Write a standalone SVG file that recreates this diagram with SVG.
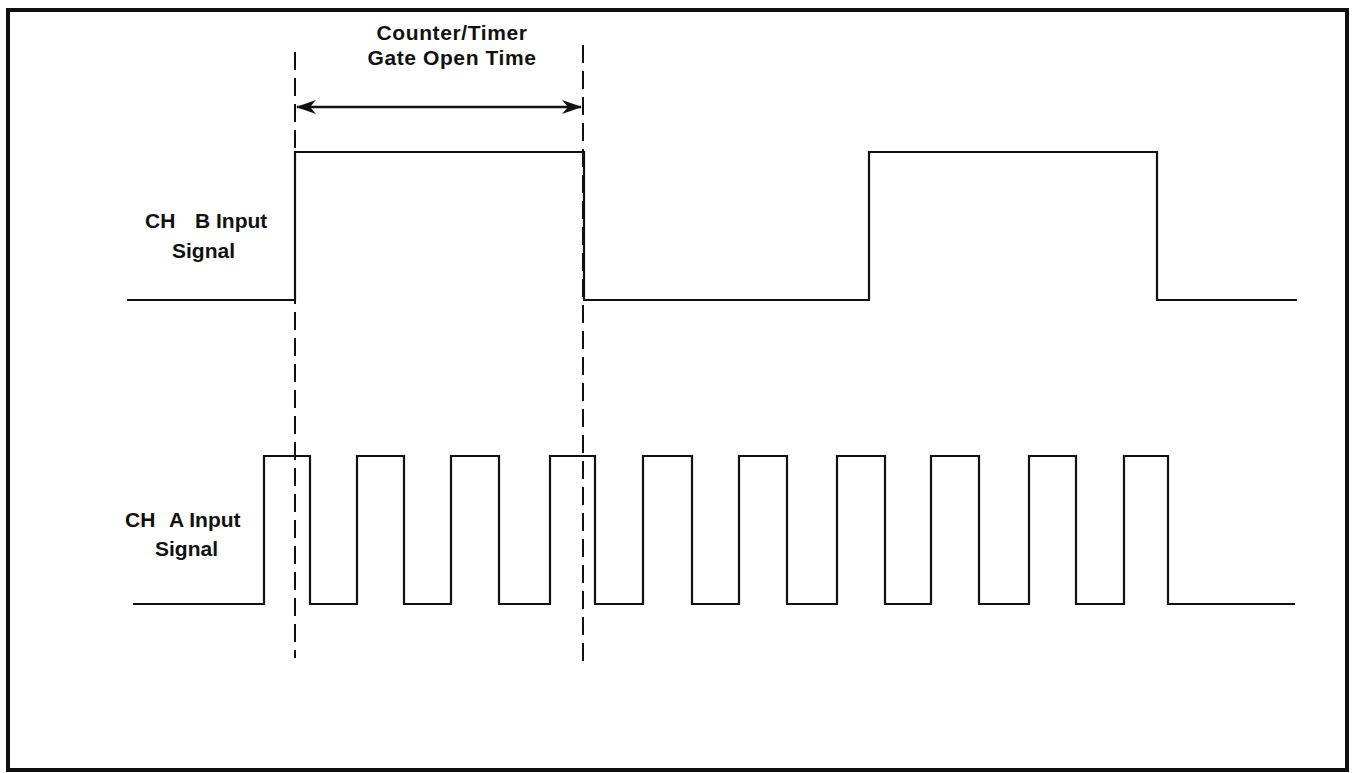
<svg xmlns="http://www.w3.org/2000/svg" width="1357" height="773" viewBox="0 0 1357 773">
<style>
.sig{fill:none;stroke:#111;stroke-width:2.2;stroke-linejoin:miter}
.dash{fill:none;stroke:#111;stroke-width:2;stroke-dasharray:18 8}
.lbl{font-family:"Liberation Sans",Arial,sans-serif;font-weight:bold;font-size:21px;fill:#111}
</style>
<defs>
<marker id="ah" viewBox="0 0 20 14" refX="19" refY="7" markerWidth="20" markerHeight="14" markerUnits="userSpaceOnUse" orient="auto-start-reverse">
<path d="M0,0 L20,7 L0,14 L6,7 Z" fill="#111"/>
</marker>
</defs>
<rect width="1357" height="773" fill="#fff"/>
<rect id="frame" x="8" y="10" width="1339" height="760" fill="none" stroke="#111" stroke-width="4"/>
<g id="title">
<text class="lbl" x="452" y="40" text-anchor="middle" letter-spacing="0.6">Counter/Timer</text>
<text class="lbl" x="452" y="65" text-anchor="middle" letter-spacing="0.6">Gate Open Time</text>
</g>
<g id="labelB">
<text class="lbl" x="145" y="228">CH<tspan x="195">B Input</tspan></text>
<text class="lbl" x="172" y="258">Signal</text>
</g>
<g id="labelA">
<text class="lbl" x="125" y="527">CH<tspan x="169">A Input</tspan></text>
<text class="lbl" x="155" y="556">Signal</text>
</g>
<g id="chB">
<path class="sig" d="M127,300 H295 V152 H584 V300 H869 V152 H1157 V300 H1297"/>
</g>
<g id="chA">
<path class="sig" d="M133,604 H264 V456 H310 V604 H357 V456 H404 V604 H451 V456 H499 V604 H550 V456 H595 V604 H643 V456 H692 V604 H739 V456 H787 V604 H837 V456 H885 V604 H931 V456 H979 V604 H1029 V456 H1076 V604 H1124 V456 H1168 V604 H1295"/>
</g>
<g id="connectors">
<line class="dash" x1="295" y1="52" x2="295" y2="658"/>
<line class="dash" x1="583" y1="45" x2="583" y2="665"/>
<line x1="297" y1="107" x2="581" y2="107" stroke="#111" stroke-width="2.4" marker-start="url(#ah)" marker-end="url(#ah)"/>
</g>
</svg>
